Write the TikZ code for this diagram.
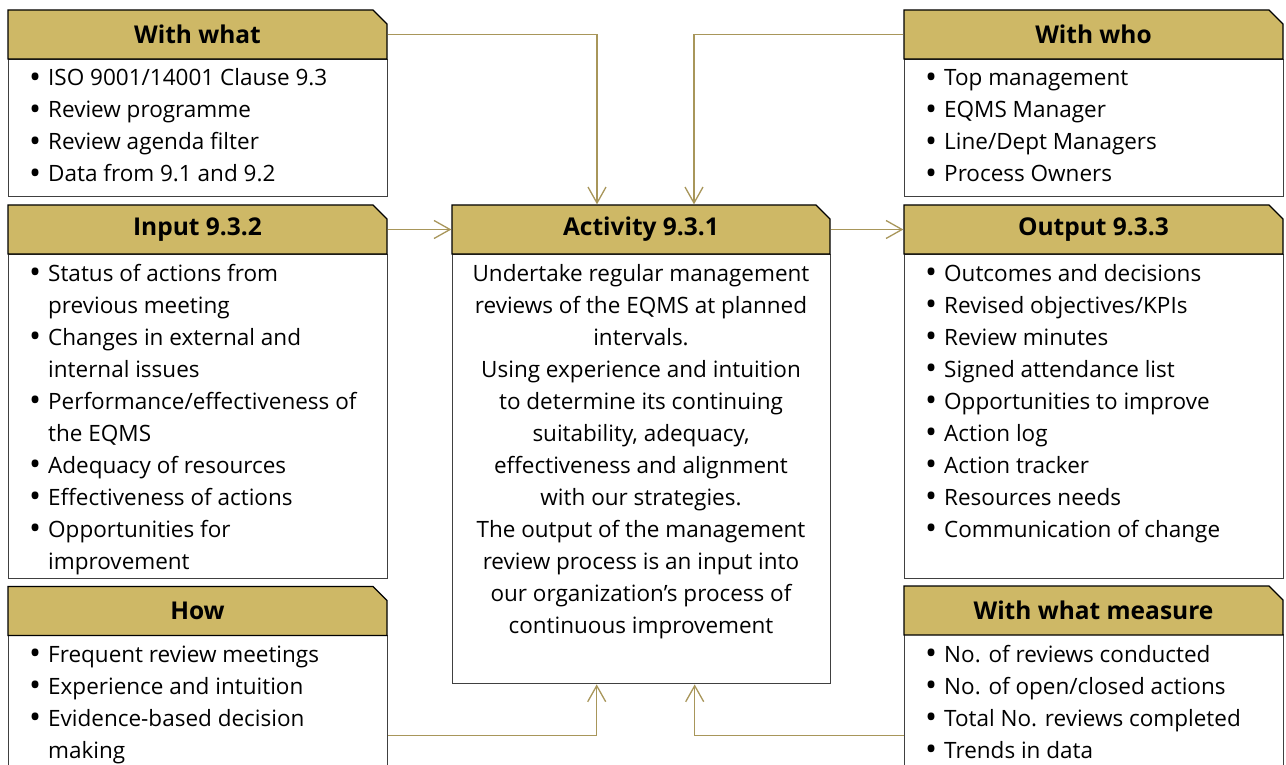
\documentclass[tikz,border=0pt]{standalone}
\usepackage{fontspec}
\setmainfont{Open Sans}
\usetikzlibrary{shapes.misc,arrows.meta}
\definecolor{hdrfill}{RGB}{206,184,102}
\definecolor{arrcol}{RGB}{168,150,90}
\definecolor{boxline}{RGB}{64,64,64}
\newcommand\bl{\makebox[19pt][l]{\raisebox{-2.6pt}{\fontsize{32}{32}\selectfont\textbullet}}}
\newcommand\ind{\hspace*{19pt}}
\tikzset{
  hdr/.style={chamfered rectangle, chamfered rectangle corners=north east,
    chamfered rectangle xsep=7pt, chamfered rectangle ysep=7pt,
    draw=black, line width=1.3pt, fill=hdrfill, minimum width=379pt, minimum height=49pt,
    inner sep=0pt, font=\fontsize{24.5}{28}\selectfont\bfseries},
  bodybox/.style={draw=boxline, line width=1.4pt, fill=white, inner sep=0pt, anchor=north west},
  txt/.style={inner sep=0pt, font=\fontsize{22.5}{32}\selectfont},
  arr/.style={draw=arrcol, line width=1.3pt, -{Straight Barb[length=16pt,width=18pt,line width=1.3pt]}},
}
\begin{document}
\begin{tikzpicture}[x=1pt,y=-1pt]
\useasboundingbox (0,0) rectangle (1286,765);
\fill[white] (0,0) rectangle (1286,765);
\begin{scope}
\clip (0,0) rectangle (1286,765);
% bodies
\node[bodybox, minimum width=379pt, minimum height=137pt] (wwhatb) at (8,59) {};
\node[bodybox, minimum width=379pt, minimum height=324pt] (inputb) at (8,254) {};
\node[bodybox, minimum width=379pt, minimum height=200pt] (howb) at (8,635) {};
\node[bodybox, minimum width=378pt, minimum height=429pt] (actb) at (452,254) {};
\node[bodybox, minimum width=379pt, minimum height=137pt] (wwhob) at (904,59) {};
\node[bodybox, minimum width=379pt, minimum height=324pt] (outb) at (904,254) {};
\node[bodybox, minimum width=379pt, minimum height=202pt] (measb) at (904,634) {};
% headers
\node[hdr] (wwhat) at (197.5,34.5) {With what};
\node[hdr] (input) at (197.5,229.5) {Input 9.3.2};
\node[hdr] (how) at (197.5,611) {How};
\node[hdr, minimum width=378pt] (act) at (641,229.5) {Activity 9.3.1};
\node[hdr] (wwho) at (1093.5,34.5) {With who};
\node[hdr] (out) at (1093.5,229.5) {Output 9.3.3};
\node[hdr] (meas) at (1093.5,610.5) {With what measure};
% texts (anchored at the baseline of their last line)
\node[txt, anchor=base west, align=left] (twwhat) at (29,182) {\bl ISO 9001/14001 Clause 9.3\\ \bl Review programme\\ \bl Review agenda filter\\ \bl Data from 9.1 and 9.2};
\node[txt, anchor=base west, align=left] (tinput) at (29,569) {\bl Status of actions from\\ \ind previous meeting\\ \bl Changes in external and\\ \ind internal issues\\ \bl Performance/effectiveness of\\ \ind the EQMS\\ \bl Adequacy of resources\\ \bl Effectiveness of actions\\ \bl Opportunities for\\ \ind improvement};
\node[txt, anchor=base west, align=left] (thow) at (29,758) {\bl Frequent review meetings\\ \bl Experience and intuition\\ \bl Evidence-based decision\\ \ind making};
\node[txt, anchor=base, align=center] (tact) at (641,633) {Undertake regular management\\ reviews of the EQMS at planned\\ intervals.\\ Using experience and intuition\\ to determine its continuing\\ suitability, adequacy,\\ effectiveness and alignment\\ with our strategies.\\ The output of the management\\ review process is an input into\\ our organization’s process of\\ continuous improvement};
\node[txt, anchor=base west, align=left] (twwho) at (925,182) {\bl Top management\\ \bl EQMS Manager\\ \bl Line/Dept Managers\\ \bl Process Owners};
\node[txt, anchor=base west, align=left] (tout) at (925,537) {\bl Outcomes and decisions\\ \bl Revised objectives/KPIs\\ \bl Review minutes\\ \bl Signed attendance list\\ \bl Opportunities to improve\\ \bl Action log\\ \bl Action tracker\\ \bl Resources needs\\ \bl Communication of change};
\node[txt, anchor=base west, align=left] (tmeas) at (925,758) {\bl No. of reviews conducted\\ \bl No. of open/closed actions\\ \bl Total No. reviews completed\\ \bl Trends in data};
% connectors
\draw[arr] (wwhat.east) -| ([xshift=-44pt]act.north);
\draw[arr] (wwho.west) -| ([xshift=53pt]act.north);
\draw[arr] (input.east) -- (act.west);
\draw[arr] (act.east) -- (out.west);
\draw[arr] (howb.east) -| ([xshift=-45pt]actb.south);
\draw[arr] (measb.west) -| ([xshift=53pt]actb.south);
\end{scope}
\end{tikzpicture}
\end{document}
